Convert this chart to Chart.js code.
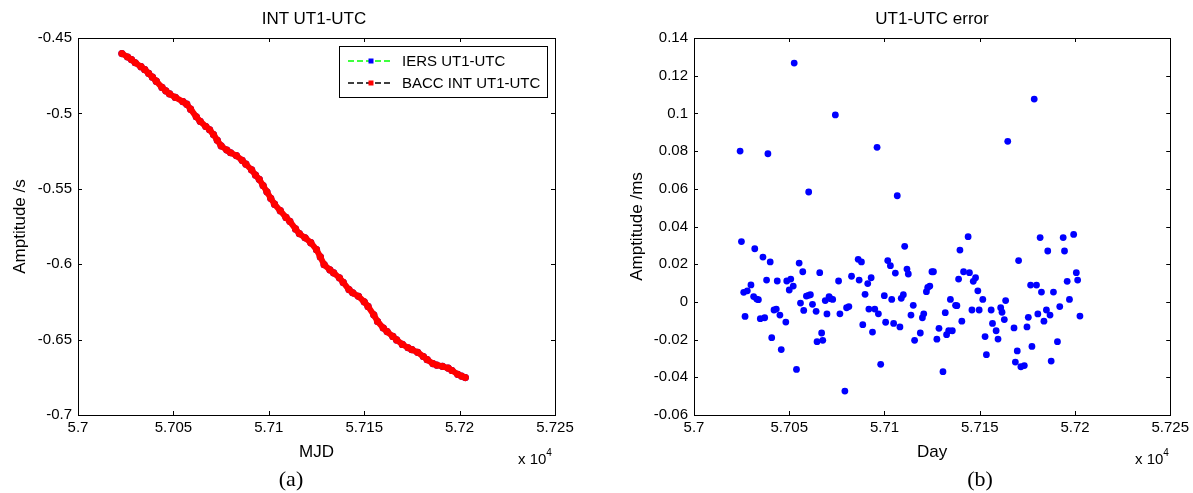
<!DOCTYPE html>
<html>
<head>
<meta charset="utf-8">
<script src="https://cdn.jsdelivr.net/npm/chart.js@4.4.1/dist/chart.umd.min.js"></script>
<style>
body{margin:0;width:1193px;height:493px;background:#fff;overflow:hidden;position:relative;font-family:"Liberation Sans",Arial,sans-serif;color:#000}
canvas{position:absolute;top:0}
.t{position:absolute;white-space:nowrap;transform:translate(-50%,-50%);line-height:1}
.ttl{font-size:17px}
.exp{font-size:15px;transform:none}
.exp sup{font-size:10px;position:relative;top:-2px}
.cap{font-family:"Liberation Serif","Times New Roman",serif;font-size:22px}
</style>
</head>
<body>
<canvas id="chartUT1" width="597" height="493" style="left:0"></canvas>
<canvas id="chartErr" width="596" height="493" style="left:597px"></canvas>

<div class="t ttl" style="left:314px;top:18px">INT UT1-UTC</div>
<div class="t ttl" style="left:932px;top:18px">UT1-UTC error</div>
<div class="t exp" style="left:518px;top:450px">x 10<sup>4</sup></div>
<div class="t exp" style="left:1135px;top:450px">x 10<sup>4</sup></div>
<div class="t cap" style="left:291px;top:479px">(a)</div>
<div class="t cap" style="left:980px;top:479px">(b)</div>

<script>
// x axis (MJD) ticks, shown in units of 1e4
var xTicks = [57000, 57050, 57100, 57150, 57200, 57250];
var xTickLabels = ['5.7', '5.705', '5.71', '5.715', '5.72', '5.725'];

var yTicksA = [-0.7, -0.65, -0.6, -0.55, -0.5, -0.45];
var yTickLabelsA = ['-0.7', '-0.65', '-0.6', '-0.55', '-0.5', '-0.45'];

var yTicksB = [-0.06, -0.04, -0.02, 0, 0.02, 0.04, 0.06, 0.08, 0.1, 0.12, 0.14];
var yTickLabelsB = ['-0.06', '-0.04', '-0.02', '0', '0.02', '0.04', '0.06', '0.08', '0.1', '0.12', '0.14'];

// (a) UT1-UTC in seconds, IERS and BACC interpolated (they overlay)
var ut1Days = [57023, 57026, 57028, 57030, 57033, 57035, 57037, 57039, 57041, 57044,
  57046, 57048, 57051, 57055, 57057, 57059, 57062, 57064, 57067, 57069,
  57071, 57073, 57075, 57078, 57080, 57083, 57086, 57088, 57091, 57093,
  57095, 57097, 57099, 57101, 57103, 57106, 57109, 57111, 57114, 57116,
  57119, 57122, 57125, 57127, 57129, 57132, 57134, 57137, 57139, 57142,
  57144, 57147, 57150, 57152, 57155, 57157, 57160, 57162, 57165, 57167,
  57170, 57173, 57175, 57178, 57181, 57183, 57186, 57188, 57191, 57194,
  57196, 57199, 57201, 57203];
var iersUt1 = [-0.4603, -0.4626, -0.4643, -0.4664, -0.4690, -0.4710, -0.4734, -0.4760, -0.4786, -0.4828,
  -0.4850, -0.4871, -0.4894, -0.4922, -0.4939, -0.4972, -0.5023, -0.5052, -0.5087, -0.5109,
  -0.5140, -0.5178, -0.5215, -0.5243, -0.5261, -0.5280, -0.5311, -0.5337, -0.5375, -0.5409,
  -0.5437, -0.5478, -0.5520, -0.5563, -0.5602, -0.5645, -0.5690, -0.5716, -0.5766, -0.5797,
  -0.5825, -0.5857, -0.5904, -0.5952, -0.6003, -0.6037, -0.6058, -0.6090, -0.6121, -0.6168,
  -0.6190, -0.6213, -0.6249, -0.6280, -0.6336, -0.6380, -0.6423, -0.6447, -0.6479, -0.6502,
  -0.6532, -0.6554, -0.6567, -0.6584, -0.6612, -0.6633, -0.6659, -0.6669, -0.6677, -0.6689,
  -0.6705, -0.6730, -0.6742, -0.6752];
var baccUt1 = iersUt1; // difference is at the ms level, not visible at this scale

// (b) UT1-UTC error in ms
var errDays = [57024.2, 57024.9, 57026.1, 57026.8, 57028.0, 57029.9, 57031.3, 57031.9, 57032.9, 57033.8,
  57034.8, 57036.2, 57037.1, 57038.1, 57038.8, 57040.0, 57040.8, 57042.0, 57043.2, 57043.7,
  57045.1, 57045.8, 57048.2, 57048.7, 57050.0, 57050.8, 57052.1, 57052.6, 57053.8, 57055.2,
  57055.9, 57057.1, 57057.6, 57059.0, 57060.1, 57060.2, 57061.1, 57062.2, 57064.1, 57064.6,
  57066.0, 57067.0, 57067.6, 57068.9, 57069.8, 57070.9, 57071.7, 57072.8, 57074.2, 57075.9,
  57076.6, 57079.2, 57080.1, 57081.3, 57082.7, 57086.2, 57086.7, 57087.9, 57088.6, 57089.8,
  57091.2, 57091.8, 57093.0, 57093.7, 57094.9, 57096.1, 57096.8, 57098.0, 57099.9, 57100.6,
  57101.7, 57103.1, 57103.8, 57104.8, 57105.7, 57106.7, 57108.1, 57108.8, 57109.9, 57110.6,
  57111.8, 57112.5, 57113.9, 57115.1, 57115.8, 57118.8, 57119.9, 57120.6, 57122.0, 57122.7,
  57123.8, 57124.9, 57125.7, 57127.5, 57128.6, 57130.7, 57131.9, 57132.6, 57133.7, 57134.6,
  57135.6, 57137.3, 57138.0, 57138.9, 57139.6, 57140.6, 57141.5, 57143.9, 57144.6, 57145.9,
  57146.6, 57147.8, 57149.0, 57149.7, 57151.6, 57152.8, 57153.5, 57156.0, 57156.7, 57158.6,
  57159.6, 57161.0, 57161.7, 57162.9, 57163.6, 57164.7, 57168.0, 57168.7, 57169.7, 57170.4,
  57171.6, 57173.4, 57174.8, 57175.5, 57176.7, 57177.4, 57178.6, 57179.8, 57180.5, 57181.7,
  57182.4, 57183.7, 57185.0, 57185.7, 57186.9, 57187.5, 57188.7, 57190.8, 57192.0, 57193.8,
  57194.5, 57195.9, 57197.1, 57199.3, 57200.7, 57201.4, 57202.6];
var errVal = [0.0800, 0.0320, 0.0051, -0.0077, 0.0059, 0.0090, 0.0028, 0.0282, 0.0015, 0.0012,
  -0.0089, 0.0238, -0.0084, 0.0116, 0.0786, 0.0212, -0.0190, -0.0043, -0.0038, 0.0111,
  -0.0070, -0.0253, -0.0107, 0.0111, 0.0063, 0.0121, 0.0084, 0.1267, -0.0358, 0.0206,
  -0.0006, 0.0160, -0.0045, 0.0031, 0.0035, 0.0583, 0.0038, -0.0013, -0.0050, -0.0211,
  0.0155, -0.0165, -0.0204, 0.0007, -0.0064, 0.0028, 0.0017, 0.0013, 0.0992, 0.0111,
  -0.0063, -0.0473, -0.0031, -0.0025, 0.0136, 0.0226, 0.0116, 0.0212, -0.0121, 0.0040,
  0.0097, -0.0038, 0.0128, -0.0160, -0.0038, 0.0820, -0.0063, -0.0331, 0.0033, -0.0108,
  0.0219, 0.0192, 0.0013, -0.0114, 0.0153, 0.0563, -0.0133, 0.0019, 0.0038, 0.0295,
  0.0174, 0.0148, -0.0070, -0.0018, -0.0204, -0.0165, -0.0084, -0.0063, 0.0054, 0.0077,
  0.0084, 0.0160, 0.0160, -0.0198, -0.0140, -0.0370, -0.0057, -0.0174, -0.0153, 0.0013,
  -0.0153, -0.0018, -0.0020, 0.0121, 0.0275, -0.0102, 0.0160, 0.0346, 0.0155, -0.0043,
  0.0109, 0.0128, 0.0059, -0.0043, 0.0013, -0.0184, -0.0280, -0.0043, -0.0114, -0.0153,
  -0.0197, -0.0031, -0.0055, -0.0094, 0.0007, 0.0852, -0.0138, -0.0319, -0.0260, 0.0219,
  -0.0344, -0.0338, -0.0133, -0.0082, 0.0089, -0.0236, 0.1076, 0.0089, -0.0064, 0.0341,
  0.0052, -0.0102, -0.0043, 0.0270, -0.0070, -0.0314, 0.0052, -0.0211, -0.0025, 0.0341,
  0.0270, 0.0109, 0.0013, 0.0358, 0.0155, 0.0116, -0.0075];

var legendNames = ['IERS UT1-UTC', 'BACC INT UT1-UTC'];
var legendLineColors = ['#00ff00', '#000000'];
var legendMarkColors = ['#0000ff', '#ff0000'];

Chart.defaults.font.family = '"Liberation Sans", Arial, sans-serif';
Chart.defaults.color = '#000';

function pts(xs, ys) {
  return xs.map(function (v, i) { return {x: v, y: ys[i]}; });
}

// matlab style box with inward ticks on all four sides
var boxPlugin = {
  id: 'box',
  afterDraw: function (chart) {
    var ctx = chart.ctx, a = chart.chartArea, sx = chart.scales.x, sy = chart.scales.y;
    ctx.save();
    ctx.strokeStyle = '#000';
    ctx.lineWidth = 1;
    ctx.strokeRect(Math.round(a.left) + 0.5, Math.round(a.top) + 0.5, Math.round(a.right - a.left), Math.round(a.bottom - a.top));
    ctx.beginPath();
    sx.ticks.forEach(function (t) {
      var p = Math.round(sx.getPixelForValue(t.value)) + 0.5;
      ctx.moveTo(p, a.bottom); ctx.lineTo(p, a.bottom - 4);
      ctx.moveTo(p, a.top); ctx.lineTo(p, a.top + 4);
    });
    sy.ticks.forEach(function (t) {
      var p = Math.round(sy.getPixelForValue(t.value)) + 0.5;
      ctx.moveTo(a.left, p); ctx.lineTo(a.left + 4, p);
      ctx.moveTo(a.right, p); ctx.lineTo(a.right - 4, p);
    });
    ctx.stroke();
    ctx.restore();
  }
};

var legendPlugin = {
  id: 'mlegend',
  afterDraw: function (chart) {
    var ctx = chart.ctx;
    var x0 = 339, y0 = 46, w = 208, h = 51;
    ctx.save();
    ctx.fillStyle = '#fff';
    ctx.fillRect(x0, y0, w, h);
    ctx.strokeStyle = '#000';
    ctx.lineWidth = 1;
    ctx.strokeRect(x0 + 0.5, y0 + 0.5, w, h);
    ctx.font = '15px "Liberation Sans", Arial, sans-serif';
    ctx.textBaseline = 'middle';
    legendNames.forEach(function (name, row) {
      var yy = y0 + 15 + row * 22;
      ctx.beginPath();
      ctx.setLineDash([6, 3]);
      ctx.strokeStyle = legendLineColors[row];
      ctx.lineWidth = 1.5;
      ctx.moveTo(348, yy); ctx.lineTo(393, yy);
      ctx.stroke();
      ctx.setLineDash([]);
      ctx.fillStyle = legendMarkColors[row];
      ctx.fillRect(368.5, yy - 2.5, 5, 5);
      ctx.fillStyle = '#000';
      ctx.fillText(name, 402, yy + 1);
    });
    ctx.restore();
  }
};

function xAxis(titleText) {
  return {
    type: 'linear', min: 57000, max: 57250,
    grid: {display: false, drawTicks: false}, border: {display: false},
    afterBuildTicks: function (s) { s.ticks = xTicks.map(function (v) { return {value: v}; }); },
    afterFit: function (s) { s.height = 78; },
    ticks: {
      autoSkip: false, maxRotation: 0, padding: 4,
      font: {size: 15},
      callback: function (v, i) { return xTickLabels[i]; }
    },
    title: {display: true, text: titleText, font: {size: 17}, padding: {top: 0, bottom: 30}}
  };
}

function yAxis(min, max, vals, labels, width, titleText, titlePad) {
  return {
    type: 'linear', min: min, max: max,
    grid: {display: false, drawTicks: false}, border: {display: false},
    afterBuildTicks: function (s) { s.ticks = vals.map(function (v) { return {value: v}; }); },
    afterFit: function (s) { s.width = width; },
    ticks: {
      autoSkip: false, padding: 6,
      font: {size: 15},
      callback: function (v, i) { return labels[i]; }
    },
    title: {display: true, text: titleText, font: {size: 17}, padding: {top: titlePad, bottom: 0}}
  };
}

new Chart(document.getElementById('chartUT1').getContext('2d'), {
  type: 'line',
  data: {
    datasets: [{
      // dense red markers hide the dashed line, so draw it as a solid red band
      label: legendNames[1],
      data: pts(ut1Days, baccUt1),
      order: 0,
      borderColor: '#ff0000', borderWidth: 6,
      borderCapStyle: 'round', borderJoinStyle: 'round',
      pointStyle: 'circle', pointRadius: 3.6, pointBorderWidth: 0,
      pointBackgroundColor: '#ff0000', tension: 0
    }, {
      label: legendNames[0],
      data: pts(ut1Days, iersUt1),
      order: 1,
      borderColor: '#00ff00', borderWidth: 1, borderDash: [6, 3],
      pointStyle: 'circle', pointRadius: 3.6, pointBorderWidth: 0,
      pointBackgroundColor: '#0000ff', tension: 0
    }]
  },
  options: {
    responsive: false, animation: false,
    layout: {padding: {left: 0, right: 42, top: 38, bottom: 0}},
    plugins: {legend: {display: false}, tooltip: {enabled: false}},
    scales: {
      x: xAxis('MJD'),
      y: yAxis(-0.7, -0.45, yTicksA, yTickLabelsA, 78, 'Amptitude /s', 10)
    }
  },
  plugins: [boxPlugin, legendPlugin]
});

new Chart(document.getElementById('chartErr').getContext('2d'), {
  type: 'scatter',
  data: {
    datasets: [{
      label: 'UT1-UTC error',
      data: pts(errDays, errVal),
      pointStyle: 'circle', pointRadius: 3.4, pointBorderWidth: 0,
      pointBackgroundColor: '#0000ff'
    }]
  },
  options: {
    responsive: false, animation: false,
    layout: {padding: {left: 0, right: 20, top: 38, bottom: 0}},
    plugins: {legend: {display: false}, tooltip: {enabled: false}},
    scales: {
      x: xAxis('Day'),
      y: yAxis(-0.06, 0.14, yTicksB, yTickLabelsB, 97, 'Amptitude /ms', 30)
    }
  },
  plugins: [boxPlugin]
});
</script>
</body>
</html>
